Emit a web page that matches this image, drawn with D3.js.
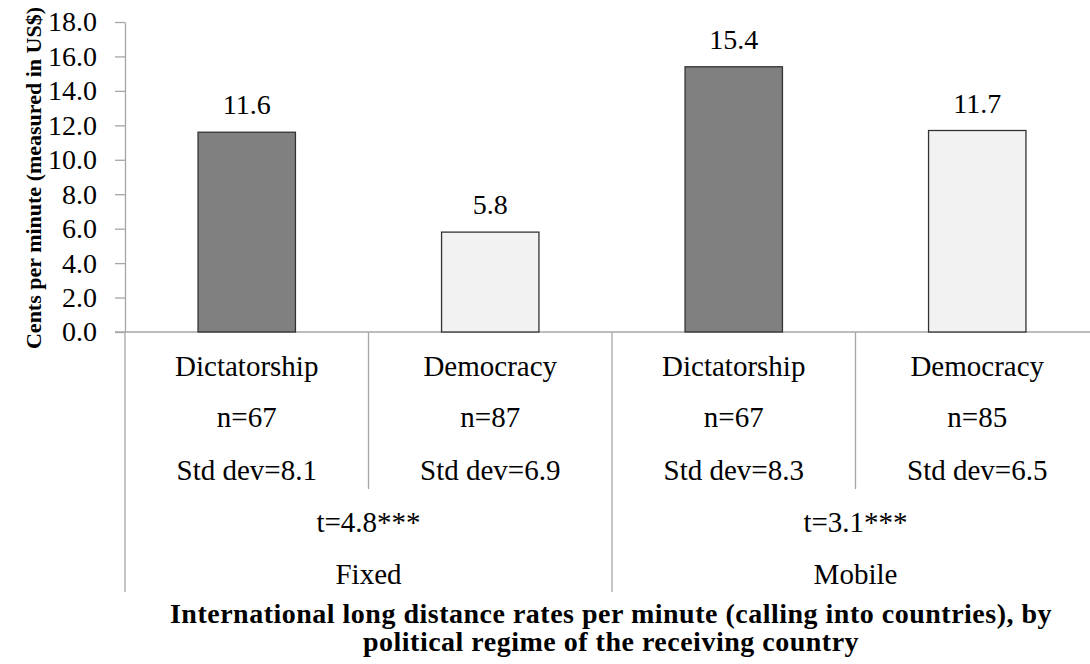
<!DOCTYPE html>
<html>
<head>
<meta charset="utf-8">
<script src="https://cdn.jsdelivr.net/npm/d3@7"></script>
<style>
  html, body { margin: 0; padding: 0; background: #fff; }
  svg text { font-family: "Liberation Serif", "Tinos", "Times New Roman", "DejaVu Serif", serif !important; fill: #000; }
</style>
</head>
<body>
<svg id="chart" width="1090" height="664"></svg>
<script>
const groups = ["Fixed", "Mobile"];
const tStats = ["t=4.8***", "t=3.1***"];
const categories = ["Dictatorship", "Democracy", "Dictatorship", "Democracy"];
const values = [11.6, 5.8, 15.4, 11.7];
const nLabels = ["n=67", "n=87", "n=67", "n=85"];
const stdLabels = ["Std dev=8.1", "Std dev=6.9", "Std dev=8.3", "Std dev=6.5"];
const yTicks = [0, 2, 4, 6, 8, 10, 12, 14, 16, 18];
const yTitle = "Cents per minute (measured in US$)";
const xTitle = ["International long distance rates per minute (calling into countries), by",
                "political regime of the receiving country"];

const svg = d3.select("#chart");
const mLeft = 125, mRight = 1099, mTop = 22, mBottom = 332;
const lineColor = "#a6a6a6";
const barColors = ["#808080", "#f2f2f2", "#808080", "#f2f2f2"];

const x = d3.scaleBand().domain(d3.range(categories.length)).range([mLeft, mRight]).padding(0);
const xg = d3.scaleBand().domain(d3.range(groups.length)).range([mLeft, mRight]).padding(0);
const y = d3.scaleLinear().domain([0, 18]).range([mBottom, mTop]);
const barW = x.bandwidth() * 0.4;

// Y axis
const yAxis = d3.axisLeft(y).tickValues(yTicks).tickFormat(d3.format(".1f"))
  .tickSize(10).tickSizeOuter(0).tickPadding(18);
const gy = svg.append("g").attr("transform", `translate(${mLeft},0)`).call(yAxis);
gy.attr("font-family", null).attr("font-size", 28);
gy.select(".domain").attr("stroke", lineColor).attr("stroke-width", 1.3);
gy.selectAll(".tick line").attr("stroke", lineColor).attr("stroke-width", 1.3);
gy.selectAll(".tick text").attr("font-size", 28).style("font-size", "28px").attr("fill", "#000");

// baseline
svg.append("line").attr("x1", mLeft - 10).attr("x2", mRight).attr("y1", y(0)).attr("y2", y(0))
  .attr("stroke", lineColor).attr("stroke-width", 1.3);

// Bars
svg.selectAll("rect.bar").data(values).join("rect").attr("class", "bar")
  .attr("x", (d, i) => x(i) + (x.bandwidth() - barW) / 2)
  .attr("y", d => y(d))
  .attr("width", barW)
  .attr("height", d => y(0) - y(d))
  .attr("fill", (d, i) => barColors[i])
  .attr("stroke", "#333")
  .attr("stroke-width", 1.3);

// Value labels
svg.selectAll("text.val").data(values).join("text").attr("class", "val")
  .attr("x", (d, i) => x(i) + x.bandwidth() / 2)
  .attr("y", d => y(d) - 18)
  .attr("text-anchor", "middle").style("font-size", "28px")
  .text(d => d3.format(".1f")(d));

// Category separators (short) and group separators (long)
const catBounds = d3.range(categories.length + 1).map(i => i < categories.length ? x(i) : mRight);
catBounds.forEach((bx, i) => {
  const isGroup = i % 2 === 0;
  svg.append("line").attr("x1", bx).attr("x2", bx)
    .attr("y1", y(0)).attr("y2", isGroup ? 592 : 489)
    .attr("stroke", lineColor).attr("stroke-width", 1.3);
});

// Category labels
const catRows = [categories, nLabels, stdLabels];
const rowY = [376, 427, 480];
catRows.forEach((row, r) => {
  svg.selectAll(null).data(row).join("text")
    .attr("x", (d, i) => x(i) + x.bandwidth() / 2)
    .attr("y", rowY[r])
    .attr("text-anchor", "middle").style("font-size", "29px")
    .text(d => d);
});

// Group labels
svg.selectAll(null).data(tStats).join("text")
  .attr("x", (d, i) => xg(i) + xg.bandwidth() / 2).attr("y", 532)
  .attr("text-anchor", "middle").style("font-size", "29px").text(d => d);
svg.selectAll(null).data(groups).join("text")
  .attr("x", (d, i) => xg(i) + xg.bandwidth() / 2).attr("y", 584)
  .attr("text-anchor", "middle").style("font-size", "29px").text(d => d);

// X title
svg.selectAll(null).data(xTitle).join("text")
  .attr("x", 611).attr("y", (d, i) => 622.5 + i * 28.5)
  .attr("text-anchor", "middle").style("font-size", "28px").style("letter-spacing", "0.5px")
  .attr("font-weight", "bold")
  .text(d => d);

// Y title
svg.append("text")
  .attr("transform", `translate(41,178) rotate(-90)`)
  .attr("text-anchor", "middle").style("font-size", "22px").attr("font-weight", "bold")
  .text(yTitle);
</script>
</body>
</html>
